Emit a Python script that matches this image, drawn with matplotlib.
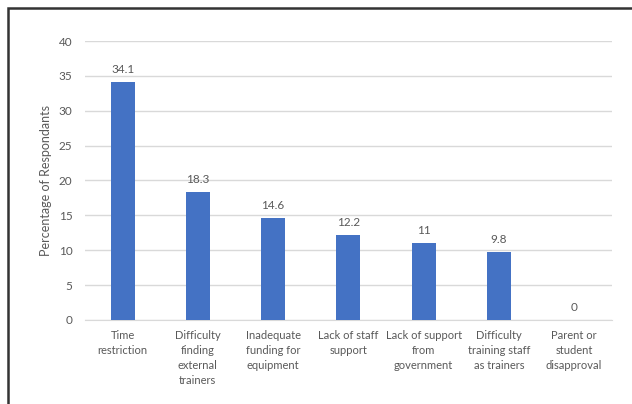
import matplotlib.pyplot as plt
from matplotlib.patches import Rectangle

categories = ["Time\nrestriction", "Difficulty\nfinding\nexternal\ntrainers",
              "Inadequate\nfunding for\nequipment", "Lack of staff\nsupport",
              "Lack of support\nfrom\ngovernment", "Difficulty\ntraining staff\nas trainers",
              "Parent or\nstudent\ndisapproval"]
values = [34.1, 18.3, 14.6, 12.2, 11, 9.8, 0]
value_labels = ["34.1", "18.3", "14.6", "12.2", "11", "9.8", "0"]
yticks = [0, 5, 10, 15, 20, 25, 30, 35, 40]

plt.rcParams['font.family'] = ['Lato', 'DejaVu Sans']
text_color = '#595959'

fig = plt.figure(figsize=(6.32, 4.04), dpi=100)
ax = fig.add_axes([0.1345, 0.208, 0.8335, 0.6905])

x = range(len(categories))
ax.bar(x, values, width=0.32, color='#4472C4', zorder=3)

for i, (v, lab) in enumerate(zip(values, value_labels)):
    ax.text(i, v + 1.0, lab, ha='center', va='bottom', fontsize=8.5, color=text_color)

ax.set_ylim(0, 40)
ax.set_xlim(-0.5, len(categories) - 0.5)
ax.set_yticks(yticks)
ax.set_yticklabels([str(t) for t in yticks], fontsize=8.5, color=text_color)
ax.set_xticks(list(x))
ax.set_xticklabels(categories, fontsize=8, color=text_color, linespacing=1.45, va='top')
ax.tick_params(axis='both', length=0)
ax.tick_params(axis='y', pad=9)
ax.tick_params(axis='x', pad=7)
ax.grid(True, axis='y', color='#d9d9d9', linewidth=1, zorder=0)
for s in ['top', 'right', 'left']:
    ax.spines[s].set_visible(False)
ax.spines['bottom'].set_color('#d9d9d9')

ax.set_ylabel('Percentage of Respondants', fontsize=9, color=text_color, labelpad=5)

# outer frame (only top and left edges show)
fig.patches.append(Rectangle((8 / 632, -0.1), 1.2, 1 - 8 / 404 + 0.1, transform=fig.transFigure,
                             fill=False, edgecolor='#333333', linewidth=1.8))

fig.savefig('out.png', dpi=100)
